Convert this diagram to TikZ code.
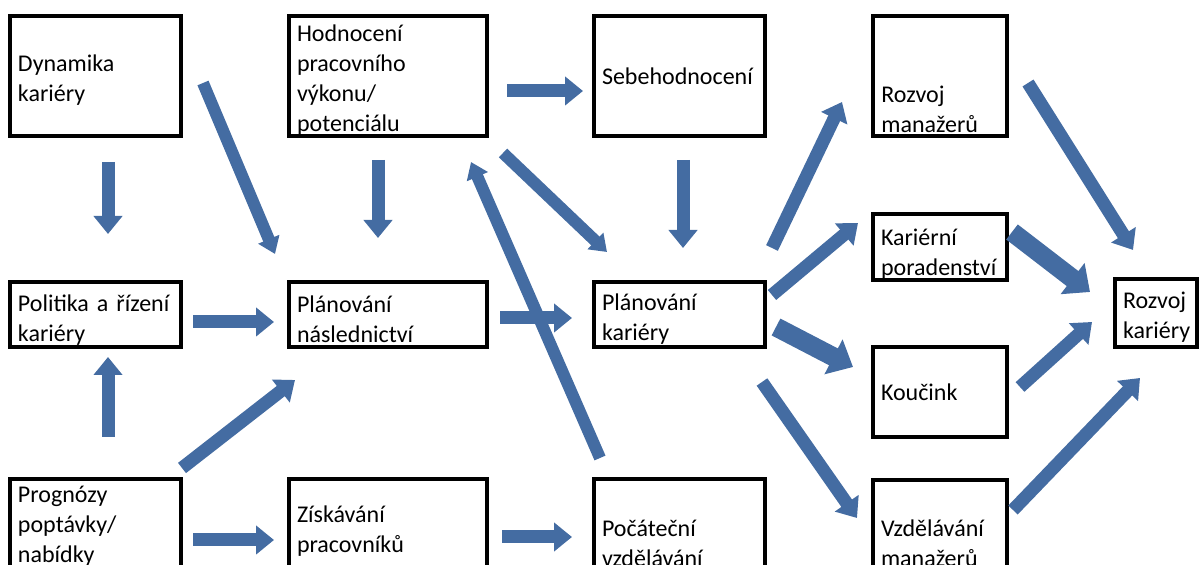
\documentclass[tikz,border=0pt]{standalone}
\usepackage{fontspec}
\setmainfont{Carlito}
\usetikzlibrary{arrows.meta}
\definecolor{arrowblue}{RGB}{68,108,162}
\hyphenpenalty=10000
\exhyphenpenalty=10000

\begin{document}
\begin{tikzpicture}
  [
    x=0.5pt, y=-0.5pt,
    box/.style  = {draw, rectangle, line width=1.6pt, anchor=north west, outer sep=0pt,
                   inner xsep=4pt, inner ysep=0pt, align=left,
                   font=\fontsize{12}{15}\selectfont},
    colA/.style = {box, text width=77.5pt},
    colB/.style = {box, text width=91pt},
    colD/.style = {box, text width=59pt},
    low/.style  = {execute at begin node={\rule{0pt}{#1}}},
    txt/.style  = {inner xsep=4pt, inner ysep=0pt, align=left,
                   font=\fontsize{12}{15}\selectfont},
    flow/.style = {arrowblue, line width=6.5pt, -{Triangle[length=9pt, width=14pt]}},
    slim/.style = {arrowblue, line width=6pt, -{Triangle[length=8pt, width=11pt]}},
    fat/.style  = {arrowblue, line width=9.5pt, -{Triangle[length=11pt, width=19pt]}},
  ]

  \useasboundingbox (0,0) rectangle (1199,565);

  % top row
  \node (dyn)  at (10,16)  [colA, low=12.4pt, minimum height=60pt] {Dynamika\\kariéry};
  \node (hod)  at (289,16) [colB, low=12pt, minimum height=60pt] {Hodnocení\\pracovního\\výkonu/\\potenciálu};
  \node (seb)  at (594,16) [colA, minimum height=60pt] {Sebehodnocení};
  \node (rozm) at (873,16) [colD, minimum height=60pt] {};
  \node [txt, anchor=south west, yshift=1.5pt] at (rozm.south west) {Rozvoj\\manažerů};

  % middle
  \node (pol)  at (10,282)  [colA, low=13.6pt, minimum height=32.5pt] {Politika a řízení\\kariéry};
  \node (nasl) at (289,282) [colB, low=13pt, minimum height=32.5pt] {Plánování\\následnictví};
  \node (kar)  at (594,282) [colA, low=13pt, minimum height=32.5pt] {Plánování\\kariéry};
  \node (kpor) at (873,214) [colD, low=15pt, minimum height=33pt] {Kariérní\\poradenství};
  \node (kouc) at (873,347) [colD, minimum height=45pt] {Koučink};
  \node (rozk) at (1115,279) [box, low=12pt, text width=33pt, minimum height=34pt] {Rozvoj\\kariéry};

  % bottom row
  \node (prog) at (10,479)  [colA, minimum height=47pt] {Prognózy\\poptávky/\\nabídky};
  \node (zisk) at (289,479) [colB, minimum height=52pt] {Získávání\\pracovníků};
  \node (poc)  at (594,479) [colA, minimum height=64pt] {Počáteční\\vzdělávání};
  \node (vzm)  at (873,480) [colD, minimum height=63pt] {Vzdělávání\\manažerů};

  % arrow ends
  \coordinate (dyn1)  at (203,83);   \coordinate (nasl1) at (275,254);
  \coordinate (dyn2)  at (108,162);  \coordinate (pol1)  at (108,234);
  \coordinate (hod1)  at (378,160);  \coordinate (nasl2) at (378,238);
  \coordinate (hod2)  at (507,91);   \coordinate (seb1)  at (583,91);
  \coordinate (poc1)  at (600,458);  \coordinate (hod3)  at (471,162);
  \coordinate (hod4)  at (503,153);  \coordinate (kar1)  at (607,252);
  \coordinate (seb2)  at (683,160);  \coordinate (kar2)  at (683,248);
  \coordinate (kar3)  at (772,248);  \coordinate (rozm1) at (842,102);
  \coordinate (kar4)  at (772,295);  \coordinate (kpor1) at (858,223);
  \coordinate (kar5)  at (776,327);  \coordinate (kouc1) at (853,367);
  \coordinate (kar6)  at (762,382);  \coordinate (vzm1)  at (857,518);
  \coordinate (nasl3) at (500,318);  \coordinate (kar7)  at (572,318);
  \coordinate (pol2)  at (193,322);  \coordinate (nasl4) at (274,322);
  \coordinate (prog1) at (108,437);  \coordinate (pol3)  at (108,357);
  \coordinate (prog2) at (182,468);  \coordinate (nasl5) at (295,380);
  \coordinate (prog3) at (193,540);  \coordinate (zisk1) at (274,540);
  \coordinate (zisk2) at (502,537);  \coordinate (poc2)  at (572,537);
  \coordinate (rozm2) at (1028,83);  \coordinate (rozk1) at (1133,250);
  \coordinate (kpor2) at (1012,232); \coordinate (rozk2) at (1090,292);
  \coordinate (kouc2) at (1020,387); \coordinate (rozk3) at (1092,322);
  \coordinate (vzm2)  at (1013,510); \coordinate (rozk4) at (1140,378);

  % arrows
  \draw[slim] (dyn1) -- (nasl1);
  \draw[flow] (dyn2) -- (pol1);
  \draw[flow] (hod1) -- (nasl2);
  \draw[flow] (hod2) -- (seb1);
  \draw[slim] (poc1) -- (hod3);
  \draw[slim] (hod4) -- (kar1);
  \draw[flow] (seb2) -- (kar2);
  \draw[flow] (kar3) -- (rozm1);
  \draw[flow] (kar4) -- (kpor1);
  \draw[fat]  (kar5) -- (kouc1);
  \draw[flow] (kar6) -- (vzm1);
  \draw[flow] (nasl3) -- (kar7);
  \draw[flow] (pol2) -- (nasl4);
  \draw[flow] (prog1) -- (pol3);
  \draw[flow] (prog2) -- (nasl5);
  \draw[flow] (prog3) -- (zisk1);
  \draw[flow] (zisk2) -- (poc2);
  \draw[flow] (rozm2) -- (rozk1);
  \draw[fat]  (kpor2) -- (rozk2);
  \draw[flow] (kouc2) -- (rozk3);
  \draw[flow] (vzm2) -- (rozk4);

\end{tikzpicture}
\end{document}
